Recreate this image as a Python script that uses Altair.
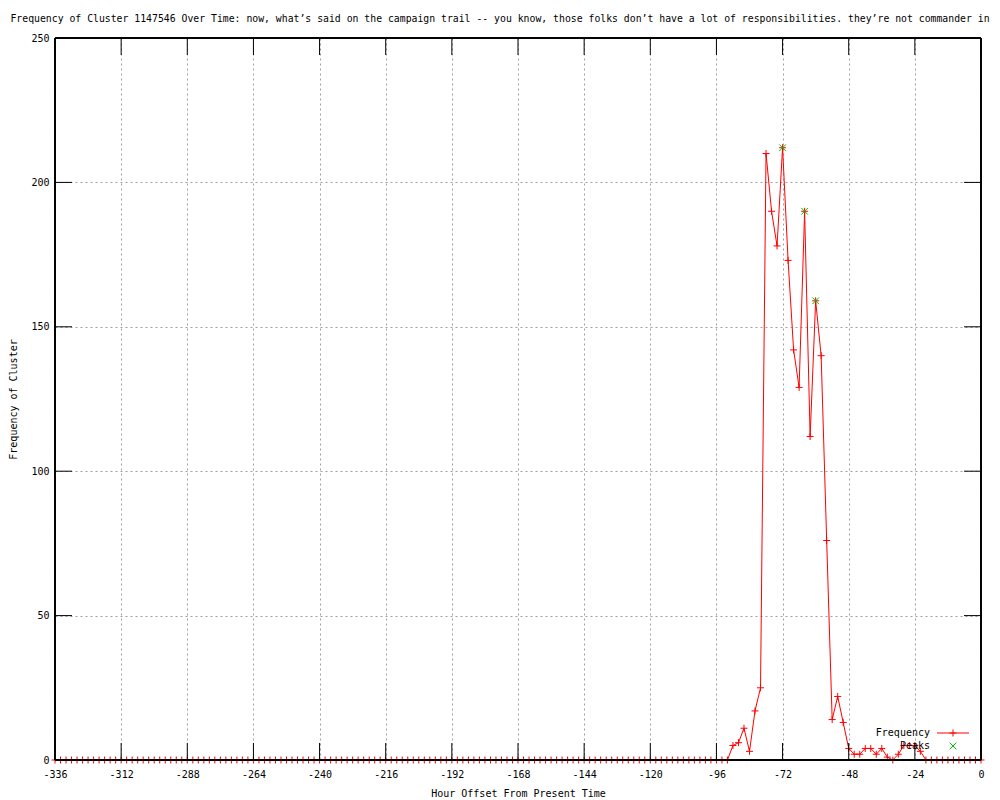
import altair as alt
import pandas as pd

# ---------------- data ----------------
hours = list(range(-336, 1, 2))
frequency = [
    # -336 .. -92 (all zero)
    0, 0, 0, 0, 0, 0, 0, 0, 0, 0, 0, 0, 0, 0, 0, 0, 0, 0, 0, 0,
    0, 0, 0, 0, 0, 0, 0, 0, 0, 0, 0, 0, 0, 0, 0, 0, 0, 0, 0, 0,
    0, 0, 0, 0, 0, 0, 0, 0, 0, 0, 0, 0, 0, 0, 0, 0, 0, 0, 0, 0,
    0, 0, 0, 0, 0, 0, 0, 0, 0, 0, 0, 0, 0, 0, 0, 0, 0, 0, 0, 0,
    0, 0, 0, 0, 0, 0, 0, 0, 0, 0, 0, 0, 0, 0, 0, 0, 0, 0, 0, 0,
    0, 0, 0, 0, 0, 0, 0, 0, 0, 0, 0, 0, 0, 0, 0, 0, 0, 0, 0, 0,
    0, 0, 0,
    # -90 .. -22
    5, 6, 11, 3, 17, 25,
    210, 190, 178, 212, 173, 142, 129, 190, 112, 159, 140, 76,
    14, 22, 13, 4, 2, 2, 4, 4, 2, 4, 1, 0, 2, 5, 5, 5, 3,
    # -20 .. 0
    0, 0, 0, 0, 0, 0, 0, 0, 0, 0, 0,
]
peak_hours = [-72, -64, -60]
peak_values = [212, 190, 159]

x_ticks = [-336, -312, -288, -264, -240, -216, -192, -168, -144, -120, -96, -72, -48, -24, 0]
y_ticks = [0, 50, 100, 150, 200, 250]
series_names = ["Frequency", "Peaks"]
series_colors = ["#ff0000", "#00c000"]

title_text = ("Frequency of Cluster 1147546 Over Time: now, what\u2019s said on the campaign trail -- "
              "you know, those folks don\u2019t have a lot of responsibilities. they\u2019re not commander in")
x_title = "Hour Offset From Present Time"
y_title = "Frequency of Cluster"

# ---------------- layout / style ----------------
W, H = 926, 722
TICK = 17
FONT = "DejaVu Sans Mono"

freq_df = pd.DataFrame({"hour": hours, "value": frequency, "series": "Frequency"})
peak_df = pd.DataFrame({"hour": peak_hours, "value": peak_values, "series": "Peaks"})
xt_df = pd.DataFrame({"hour": x_ticks})
yt_df = pd.DataFrame({"value": y_ticks})
leg_freq_df = pd.DataFrame({"label": [series_names[0]]})
leg_peak_df = pd.DataFrame({"label": [series_names[1]]})

plus_path = "M-1,0L1,0M0,-1L0,1"
cross_path = "M-1,-1L1,1M1,-1L-1,1"

x_scale = alt.Scale(domain=[-336, 0], nice=False, zero=False)
y_scale = alt.Scale(domain=[0, 250], nice=False, zero=False)

x_axis = alt.Axis(
    values=x_ticks, title=x_title, grid=True, gridColor="#a0a0a0", gridDash=[2, 3],
    gridWidth=1, ticks=False, tickSize=0, domain=False,
    labelFont=FONT, labelFontSize=10, labelColor="black", labelPadding=9,
    labelExpr="replace(datum.label, '\u2212', '-')", labelFlush=False, labelOverlap=False,
    titleFont=FONT, titleFontSize=10, titleFontWeight="normal", titleColor="black",
    titleY=33, titleBaseline="middle",
)
y_axis = alt.Axis(
    values=y_ticks, title=y_title, grid=True, gridColor="#a0a0a0", gridDash=[2, 3],
    gridWidth=1, ticks=False, tickSize=0, domain=False,
    labelFont=FONT, labelFontSize=10, labelColor="black", labelPadding=6,
    labelFlush=False, labelOverlap=False,
    titleFont=FONT, titleFontSize=10, titleFontWeight="normal", titleColor="black",
    titleX=-42, titleY=H / 2, titleAngle=270, titleBaseline="middle", titleAlign="center",
)

X = alt.X("hour:Q", scale=x_scale, axis=x_axis)
Y = alt.Y("value:Q", scale=y_scale, axis=y_axis)

color_scale = alt.Scale(domain=series_names, range=series_colors)
C = alt.Color("series:N", scale=color_scale, legend=None)

line = alt.Chart(freq_df).mark_line(strokeWidth=1).encode(x=X, y=Y, color=C)
pts = alt.Chart(freq_df).mark_point(shape=plus_path, size=49, filled=False, strokeWidth=1, opacity=1).encode(x=X, y=Y, color=C)
peaks = alt.Chart(peak_df).mark_point(shape=cross_path, size=44, filled=False, strokeWidth=1, opacity=1).encode(x=X, y=Y, color=C)

# ---- key (inside the plot, bottom right, labels to the left of samples) ----
LEG_TX, LEG_SX1, LEG_SX2, LEG_SC = 875, 882, 914, 898
LEG_Y1, LEG_Y2 = 695, 708
key_txt1 = alt.Chart(leg_freq_df).mark_text(align="right", baseline="middle", font=FONT, fontSize=10, color="black").encode(
    text="label:N", x=alt.value(LEG_TX), y=alt.value(LEG_Y1))
key_line = alt.Chart(leg_freq_df).mark_rule(color=series_colors[0], strokeWidth=1).encode(
    x=alt.value(LEG_SX1), x2=alt.value(LEG_SX2), y=alt.value(LEG_Y1))
key_plus = alt.Chart(leg_freq_df).mark_point(shape=plus_path, size=49, filled=False, strokeWidth=1, opacity=1,
                                             color=series_colors[0]).encode(x=alt.value(LEG_SC), y=alt.value(LEG_Y1))
key_txt2 = alt.Chart(leg_peak_df).mark_text(align="right", baseline="middle", font=FONT, fontSize=10, color="black").encode(
    text="label:N", x=alt.value(LEG_TX), y=alt.value(LEG_Y2))
key_x = alt.Chart(leg_peak_df).mark_point(shape=cross_path, size=44, filled=False, strokeWidth=1, opacity=1,
                                          color=series_colors[1]).encode(x=alt.value(LEG_SC), y=alt.value(LEG_Y2))

# ---- inward tick marks and frame ----
tick_b = alt.Chart(xt_df).mark_rule(color="black", strokeWidth=1).encode(x=X, y=alt.value(H), y2=alt.value(H - TICK))
tick_t = alt.Chart(xt_df).mark_rule(color="black", strokeWidth=1).encode(x=X, y=alt.value(0), y2=alt.value(TICK))
tick_l = alt.Chart(yt_df).mark_rule(color="black", strokeWidth=1).encode(y=Y, x=alt.value(0), x2=alt.value(TICK))
tick_r = alt.Chart(yt_df).mark_rule(color="black", strokeWidth=1).encode(y=Y, x=alt.value(W), x2=alt.value(W - TICK))

border = alt.Chart(yt_df).mark_rect(fillOpacity=0, stroke="black", strokeWidth=1).encode(
    x=alt.value(0), x2=alt.value(W), y=alt.value(0), y2=alt.value(H)
)

chart = alt.layer(
    line, pts, peaks,
    key_txt1, key_line, key_plus, key_txt2, key_x,
    tick_b, tick_t, tick_l, tick_r, border,
).properties(
    width=W, height=H,
    title=alt.TitleParams(title_text, font=FONT, fontSize=9.8, fontWeight="normal", color="black",
                          anchor="middle", dx=-18, offset=9),
    autosize=alt.AutoSizeParams(type="none"),
    padding={"left": 47, "top": 30, "right": 11, "bottom": 40},
).configure_view(stroke=None).configure(background="white")

chart.save("out.html", embed_options={"renderer": "svg", "actions": False})
